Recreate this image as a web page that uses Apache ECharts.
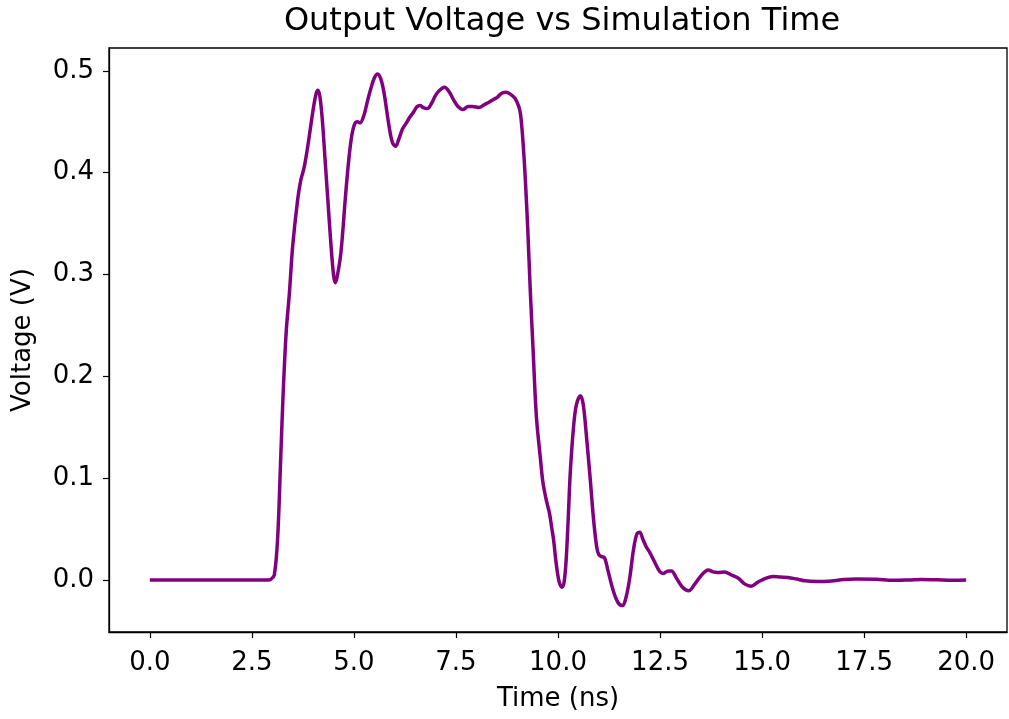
<!DOCTYPE html>
<html>
<head>
<meta charset="utf-8">
<title>Output Voltage vs Simulation Time</title>
<script src="https://cdn.jsdelivr.net/npm/echarts@6/dist/echarts.min.js"></script>
<style>
    html, body { margin: 0; padding: 0; background: #fff; }
    #main { width: 1009px; height: 719px; }
</style>
</head>
<body>
<div id="main"></div>
<script>
// time (ns) and output voltage (V)
var timeNs = [
    0, 2.5, 2.9, 2.97, 3.05, 3.13, 3.2, 3.26, 3.34, 3.42, 3.5, 3.62, 3.7, 3.78, 3.87, 3.99,
    4.07, 4.12, 4.17, 4.23, 4.29, 4.35, 4.44, 4.5, 4.54, 4.59, 4.68, 4.8, 4.88, 4.95,
    5.02, 5.09, 5.15, 5.25, 5.33, 5.41, 5.5, 5.58, 5.66, 5.74, 5.8, 5.86, 5.94,
    6.02, 6.1, 6.19, 6.27, 6.36, 6.45, 6.55, 6.62, 6.7, 6.8, 6.9,
    7.0, 7.1, 7.22, 7.34, 7.45, 7.55, 7.67, 7.8, 7.9,
    8.06, 8.2, 8.3, 8.42, 8.51, 8.62, 8.73, 8.84, 8.95,
    9.04, 9.08, 9.12, 9.16, 9.2, 9.26, 9.32, 9.39, 9.47, 9.57, 9.63, 9.69, 9.74, 9.79, 9.84, 9.89, 9.96,
    10.03, 10.1, 10.15, 10.2, 10.25, 10.3, 10.38, 10.45, 10.55, 10.62, 10.7, 10.79, 10.87, 10.95,
    11.0, 11.07, 11.14, 11.22, 11.35, 11.47, 11.58, 11.66, 11.75, 11.85, 11.93,
    12.0, 12.08, 12.17, 12.25, 12.4, 12.5, 12.58, 12.7, 12.78, 12.9,
    13.05, 13.2, 13.35, 13.5, 13.68, 13.8, 13.92,
    14.08, 14.25, 14.41, 14.58, 14.73, 14.9,
    15.1, 15.26, 15.45, 15.63, 15.85,
    16.04, 16.36, 16.7, 17.0, 17.3, 17.8, 18.2, 18.6, 18.9, 19.3, 19.7, 20.0
];
var voltage = [
    0, 0, 0, 0.001, 0.005, 0.04, 0.112, 0.177, 0.243, 0.282, 0.328, 0.373, 0.393, 0.405, 0.426, 0.459,
    0.477, 0.481, 0.474, 0.45, 0.415, 0.38, 0.328, 0.3, 0.292, 0.298, 0.321, 0.38, 0.415, 0.437,
    0.448, 0.45, 0.449, 0.457, 0.47, 0.482, 0.493, 0.497, 0.492, 0.478, 0.462, 0.446, 0.43,
    0.426, 0.433, 0.443, 0.448, 0.454, 0.459, 0.465, 0.466, 0.464, 0.463, 0.468,
    0.476, 0.481, 0.484, 0.479, 0.471, 0.465, 0.462, 0.465, 0.465,
    0.464, 0.467, 0.469, 0.472, 0.474, 0.478, 0.479, 0.477, 0.473,
    0.465, 0.458, 0.442, 0.42, 0.393, 0.344, 0.285, 0.226, 0.161, 0.119, 0.096, 0.083, 0.074, 0.066, 0.053, 0.04, 0.015,
    -0.002, -0.007, -0.002, 0.02, 0.06, 0.105, 0.15, 0.172, 0.181, 0.172, 0.14, 0.099, 0.06, 0.032,
    0.025, 0.023, 0.022, 0.01, -0.01, -0.022, -0.025, -0.018, 0.0, 0.03, 0.045,
    0.047, 0.04, 0.032, 0.027, 0.015, 0.008, 0.0065, 0.009, 0.009, 0.002,
    -0.007, -0.0105, -0.004, 0.004, 0.01, 0.008, 0.0075,
    0.008, 0.005, 0.002, -0.004, -0.006, -0.002,
    0.002, 0.0036, 0.003, 0.0026, 0.001,
    -0.0006, -0.0013, -0.0008, 0.0005, 0.001, 0.0007, -0.0003, 0.0001, 0.0006, 0.0002, -0.0001, 0
];
var xTicks = [0, 2.5, 5, 7.5, 10, 12.5, 15, 17.5, 20];
var yTicks = [0, 0.1, 0.2, 0.3, 0.4, 0.5];

var points = timeNs.map(function (t, i) { return [t, voltage[i]]; });

var font = 'DejaVu Sans';
var chart = echarts.init(document.getElementById('main'));
chart.setOption({
    animation: false,
    title: {
        text: 'Output Voltage vs Simulation Time',
        left: 557,
        top: 1,
        textAlign: 'center',
        textStyle: { fontFamily: font, fontSize: 32, fontWeight: 'normal', color: '#000' }
    },
    grid: {
        left: 109,
        right: 2,
        top: 48,
        bottom: 87,
        show: true,
        borderColor: '#000',
        borderWidth: 1.3,
        backgroundColor: '#fff'
    },
    xAxis: {
        type: 'value',
        min: -1,
        max: 21,
        name: 'Time (ns)',
        nameLocation: 'middle',
        nameGap: 54,
        nameTextStyle: { fontFamily: font, fontSize: 26, color: '#000' },
        axisLine: { show: true, onZero: false, lineStyle: { color: '#000', width: 1.3 } },
        axisTick: { show: true, length: 6, customValues: xTicks, lineStyle: { color: '#000', width: 1.2 } },
        axisLabel: {
            customValues: xTicks,
            margin: 18,
            fontFamily: font, fontSize: 26, color: '#000',
            formatter: function (v) { return v.toFixed(1); }
        },
        splitLine: { show: false }
    },
    yAxis: {
        type: 'value',
        min: -0.051,
        max: 0.5225,
        name: 'Voltage (V)',
        nameLocation: 'middle',
        nameGap: 73,
        nameTextStyle: { fontFamily: font, fontSize: 26, color: '#000' },
        axisLine: { show: true, onZero: false, lineStyle: { color: '#000', width: 1.3 } },
        axisTick: { show: true, length: 6, customValues: yTicks, lineStyle: { color: '#000', width: 1.2 } },
        axisLabel: {
            customValues: yTicks,
            margin: 15,
            fontFamily: font, fontSize: 26, color: '#000',
            formatter: function (v) { return v.toFixed(1); }
        },
        splitLine: { show: false }
    },
    series: [
        {
            type: 'line',
            data: points,
            showSymbol: false,
            smooth: 0.35,
            clip: true,
            lineStyle: { color: '#800080', width: 3.5 }
        }
    ]
});
</script>
</body>
</html>
